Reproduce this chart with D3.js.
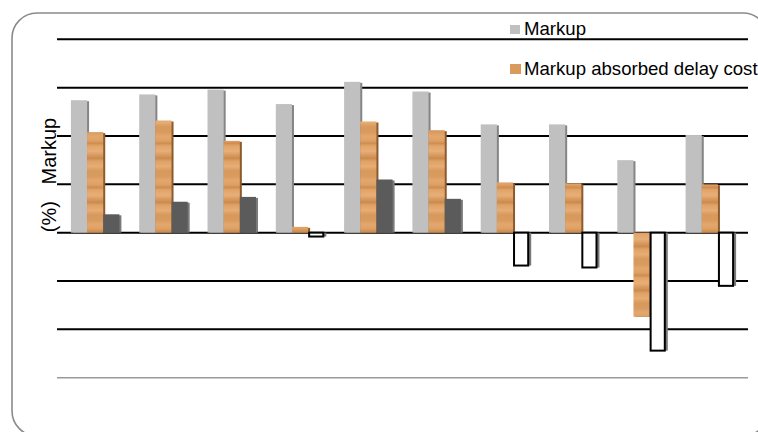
<!DOCTYPE html>
<html>
<head>
<meta charset="utf-8">
<script src="https://cdn.jsdelivr.net/npm/d3@7"></script>
<style>
  html, body { margin: 0; padding: 0; background: #fff; }
  svg { display: block; font-family: "Liberation Sans", Arial, sans-serif; }
</style>
</head>
<body>
<svg id="chart" width="758" height="432"></svg>
<script>
// Ten projects, three bar series per project (values in %)
const categories = ["1", "2", "3", "4", "5", "6", "7", "8", "9", "10"];
const markup   = [13.7, 14.3, 14.8, 13.3, 15.6, 14.6, 11.2, 11.2, 7.5, 10.1];
const absorbed = [10.4, 11.6, 9.5, 0.6, 11.5, 10.6, 5.2, 5.1, -8.7, 5.0];
const residual = [1.9, 3.2, 3.7, -0.4, 5.5, 3.5, -3.4, -3.6, -12.2, -5.5];
const seriesNames = ["Markup", "Markup absorbed delay cost", "Remaining markup"];
const yTicks = [-15, -10, -5, 0, 5, 10, 15, 20];

const svg = d3.select("#chart");
const defs = svg.append("defs");

// Soft wood-grain fill for the absorbed-delay series
const grain = defs.append("linearGradient")
  .attr("id", "grain")
  .attr("x1", 0).attr("y1", 0).attr("x2", 0).attr("y2", 1);
[
  [0.00, "#d99a5e"], [0.10, "#e3a76d"], [0.20, "#dea064"], [0.26, "#cf8e50"],
  [0.32, "#e2a56b"], [0.44, "#e7ae77"], [0.54, "#d6975b"], [0.60, "#cc8b4d"],
  [0.66, "#dea166"], [0.78, "#e6ad75"], [0.88, "#d8995d"], [1.00, "#d99a5e"]
].forEach(([o, c]) => grain.append("stop").attr("offset", o).attr("stop-color", c));

const wood = defs.append("pattern")
  .attr("id", "wood")
  .attr("patternUnits", "userSpaceOnUse")
  .attr("width", 40).attr("height", 44);
wood.append("rect").attr("width", 40).attr("height", 44).attr("fill", "url(#grain)");

// Chart frame with rounded corners
svg.append("rect")
  .attr("x", 12).attr("y", 13)
  .attr("width", 756).attr("height", 423)
  .attr("rx", 25).attr("ry", 25)
  .attr("fill", "none")
  .attr("stroke", "#8a8a8a")
  .attr("stroke-width", 1.6);

const y = d3.scaleLinear().domain([-15, 20]).range([377.7, 39.3]);
const x0 = d3.scaleBand().domain(categories).range([61, 744])
  .paddingInner(0.29).paddingOuter(0.145);
const x1 = d3.scaleBand().domain(d3.range(3)).range([0, x0.bandwidth()]);

// Horizontal gridlines
const gridX0 = 57, gridX1 = 748;
svg.append("g").selectAll("line")
  .data(yTicks.filter(t => t !== -15))
  .join("line")
  .attr("x1", gridX0).attr("x2", gridX1)
  .attr("y1", d => y(d)).attr("y2", d => y(d))
  .attr("stroke", "#000").attr("stroke-width", 2);

// Category axis line along the bottom
svg.append("line")
  .attr("x1", gridX0).attr("x2", gridX1)
  .attr("y1", y(-15)).attr("y2", y(-15))
  .attr("stroke", "#9a9a9a").attr("stroke-width", 1.5);

const series = [
  { values: markup,   fill: () => "#c0c0c0", stroke: () => "none", shadow: "#858585" },
  { values: absorbed, fill: () => "url(#wood)", stroke: () => "none", shadow: "#8d5a2e" },
  { values: residual, fill: v => v >= 0 ? "#5b5b5b" : "#ffffff",
    stroke: v => v >= 0 ? "none" : "#000", shadow: "#7a7a7a" }
];

series.forEach((s, si) => {
  const g = svg.append("g");
  const rows = s.values.map((v, i) => ({ v, c: categories[i] }));
  // drop shadow to the right of each bar
  g.selectAll("rect.shadow")
    .data(rows)
    .join("rect")
    .attr("class", "shadow")
    .attr("x", d => x0(d.c) + x1(si) + 2)
    .attr("y", d => Math.min(y(d.v), y(0)) + (d.v >= 0 ? 1 : 0))
    .attr("width", x1.bandwidth())
    .attr("height", d => Math.abs(y(d.v) - y(0)) + (d.v >= 0 ? -1 : 0))
    .attr("fill", s.shadow);
  g.selectAll("rect.bar")
    .data(rows)
    .join("rect")
    .attr("class", "bar")
    .attr("x", d => x0(d.c) + x1(si) + (s.stroke(d.v) !== "none" ? 1 : 0))
    .attr("y", d => Math.min(y(d.v), y(0)))
    .attr("width", d => x1.bandwidth() - (s.stroke(d.v) !== "none" ? 2 : 0))
    .attr("height", d => Math.abs(y(d.v) - y(0)))
    .attr("fill", d => s.fill(d.v))
    .attr("stroke", d => s.stroke(d.v))
    .attr("stroke-width", 2);
});

// Legend
const legend = svg.append("g");
const legendItems = [
  { name: seriesNames[0], fill: "#c0c0c0", sx: 510, sy: 25, sw: 10, sh: 9, ty: 35 },
  { name: seriesNames[1], fill: "#d99a5e", sx: 510, sy: 64, sw: 11, sh: 10, ty: 75 }
];
legendItems.forEach(it => {
  legend.append("rect")
    .attr("x", it.sx).attr("y", it.sy)
    .attr("width", it.sw).attr("height", it.sh)
    .attr("fill", it.fill);
  legend.append("text")
    .attr("x", 524).attr("y", it.ty)
    .attr("font-size", 18.6)
    .attr("fill", "#000")
    .text(it.name);
});

// Vertical axis title
svg.append("text")
  .attr("transform", "translate(56,175) rotate(-90)")
  .attr("text-anchor", "middle")
  .attr("font-size", 20)
  .attr("fill", "#000")
  .style("white-space", "pre")
  .text("(%)   Markup");
</script>
</body>
</html>
